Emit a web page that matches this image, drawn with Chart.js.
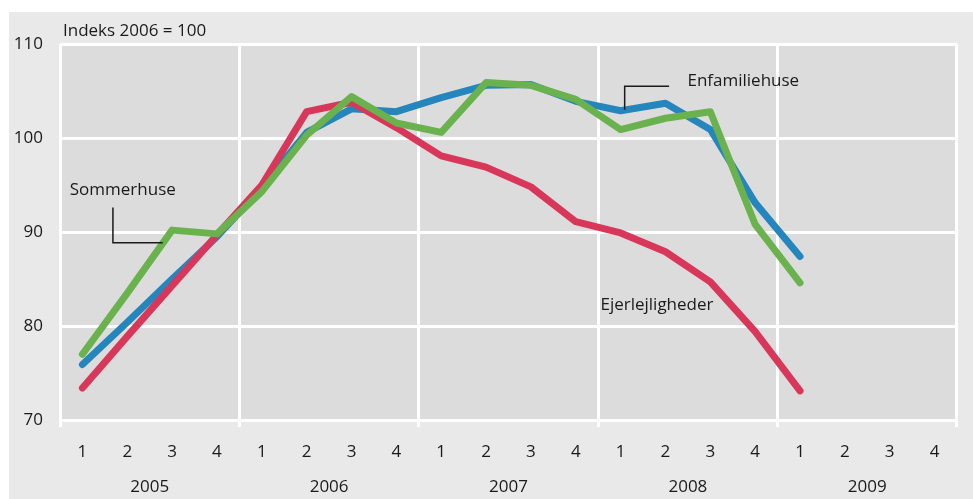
<!DOCTYPE html>
<html>
<head>
<meta charset="utf-8">
<script src="https://cdn.jsdelivr.net/npm/chart.js@4"></script>
<style>
  html, body { margin: 0; padding: 0; background: #fff; }
  #wrap { position: absolute; left: 9px; top: 12px; width: 964px; height: 487px; background: #e9e9e9; }
</style>
</head>
<body>
<div id="wrap"><canvas id="chart"></canvas></div>
<script>
// Data
const quarters = ['1', '2', '3', '4', '1', '2', '3', '4', '1', '2', '3', '4', '1', '2', '3', '4', '1', '2', '3', '4'];
const years = ['2005', '2006', '2007', '2008', '2009'];
const yTicks = [70, 80, 90, 100, 110];

const enfamiliehuse = [75.9, 80.4, 85.0, 89.5, 94.7, 100.6, 103.1, 102.8, 104.3, 105.6, 105.7, 103.9, 102.9, 103.7, 100.9, 93.1, 87.4, null, null, null];
const ejerlejligheder = [73.4, 78.9, 84.3, 89.7, 95.0, 102.8, 103.8, 101.1, 98.1, 96.9, 94.8, 91.1, 89.9, 87.9, 84.7, 79.4, 73.1, null, null, null];
const sommerhuse = [77.0, 83.5, 90.2, 89.8, 94.3, 100.3, 104.4, 101.6, 100.6, 105.9, 105.6, 104.1, 100.9, 102.1, 102.8, 90.8, 84.6, null, null, null];

// Labels inside the plot, placed in data space (category index, value)
const notes = [
  { text: 'Sommerhuse', x: 0.9, y: 94.5, align: 'center' },
  { text: 'Enfamiliehuse', x: 13.49, y: 106.0, align: 'left' },
  { text: 'Ejerlejligheder', x: 11.55, y: 82.25, align: 'left' }
];
const leaders = [
  [[0.68, 92.6], [0.68, 88.85], [1.79, 88.85]],
  [[12.09, 103.0], [12.09, 105.5], [13.08, 105.5]]
];

Chart.defaults.font.family = "'Open Sans', sans-serif";
Chart.defaults.font.size = 17;
Chart.defaults.color = '#1a1a1a';

// plot background + header text + annotations
const extras = {
  id: 'extras',
  beforeDraw(chart) {
    const { ctx, chartArea: a } = chart;
    ctx.save();
    ctx.fillStyle = '#dcdcdc';
    ctx.fillRect(a.left, a.top, a.right - a.left, a.bottom - a.top);
    ctx.restore();
  },
  afterDatasetsDraw(chart) {
    const { ctx, chartArea: a, scales } = chart;
    const xs = scales.x, ys = scales.y;
    ctx.save();
    ctx.fillStyle = '#1a1a1a';
    ctx.font = "17px 'Open Sans', sans-serif";
    ctx.textBaseline = 'middle';
    ctx.textAlign = 'left';
    ctx.fillText('Indeks 2006 = 100', a.left + 3, a.top - 13);

    notes.forEach(n => {
      ctx.textAlign = n.align;
      ctx.fillText(n.text, xs.getPixelForValue(n.x), ys.getPixelForValue(n.y));
    });

    ctx.strokeStyle = '#1a1a1a';
    ctx.lineWidth = 1.5;
    leaders.forEach(pts => {
      ctx.beginPath();
      pts.forEach((p, i) => {
        const px = xs.getPixelForValue(p[0]), py = ys.getPixelForValue(p[1]);
        if (i === 0) ctx.moveTo(px, py); else ctx.lineTo(px, py);
      });
      ctx.stroke();
    });
    ctx.restore();
  }
};

function line(label, data, color) {
  return {
    label, data,
    borderColor: color,
    backgroundColor: color,
    borderWidth: 7,
    borderCapStyle: 'round',
    borderJoinStyle: 'round',
    pointRadius: 0,
    tension: 0,
    spanGaps: false
  };
}

new Chart(document.getElementById('chart'), {
  type: 'line',
  data: {
    labels: quarters,
    // first dataset is drawn on top
    datasets: [
      line('Sommerhuse', sommerhuse, '#6ab24d'),
      line('Ejerlejligheder', ejerlejligheder, '#d9375a'),
      line('Enfamiliehuse', enfamiliehuse, '#2586be')
    ]
  },
  options: {
    responsive: true,
    maintainAspectRatio: false,
    animation: false,
    layout: { padding: { top: 32, right: 16, bottom: 0, left: 0 } },
    plugins: { legend: { display: false }, tooltip: { enabled: false } },
    scales: {
      x: {
        type: 'category',
        offset: true,
        afterFit(scale) { scale.height = 40; },
        border: { display: false },
        grid: {
          offset: true,
          lineWidth: 3,
          tickLength: 7,
          color: c => (c.index === undefined || c.index % 4 === 0) ? '#ffffff' : 'rgba(0,0,0,0)'
        },
        ticks: { padding: 15, maxRotation: 0, autoSkip: false }
      },
      x2: {
        type: 'category',
        labels: years,
        position: 'bottom',
        offset: true,
        afterFit(scale) { scale.height = 39; },
        border: { display: false },
        grid: { display: false, drawTicks: false },
        ticks: { padding: 17, maxRotation: 0 }
      },
      y: {
        min: 70,
        max: 110,
        afterFit(scale) { scale.width = 51; },
        afterBuildTicks(scale) { scale.ticks = yTicks.map(v => ({ value: v })); },
        border: { display: false },
        grid: { color: '#ffffff', lineWidth: 3, drawTicks: false },
        ticks: { padding: 17 }
      }
    }
  },
  plugins: [extras]
});
</script>
</body>
</html>
